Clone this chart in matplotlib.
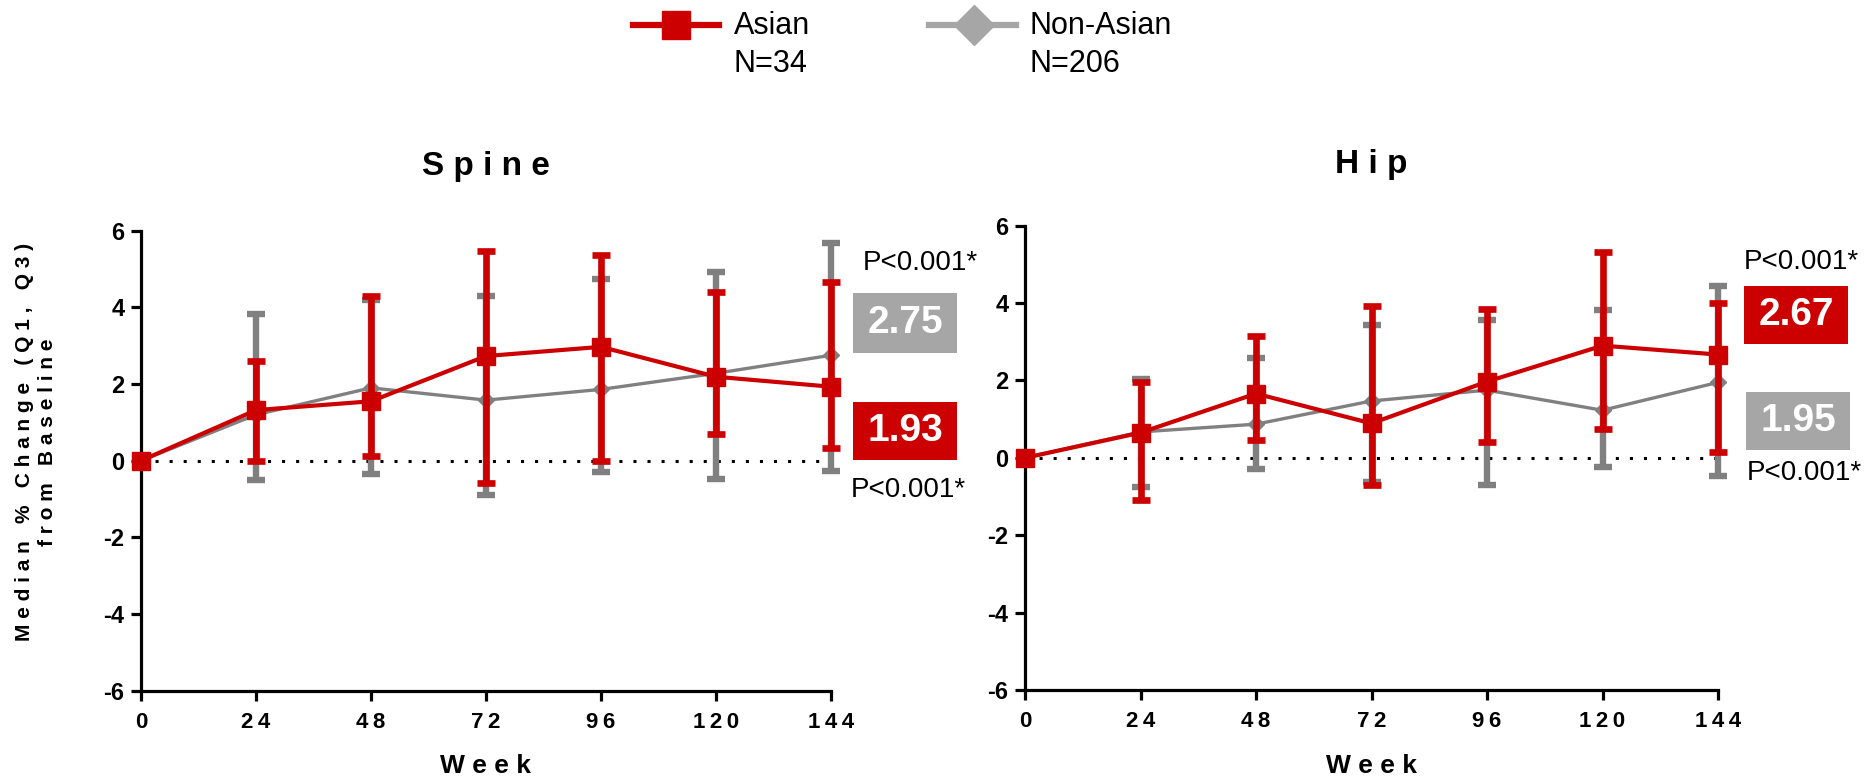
import matplotlib
matplotlib.use('Agg')
import matplotlib.pyplot as plt
from matplotlib.lines import Line2D
from matplotlib.patches import Rectangle

plt.rcParams['font.family'] = ['Liberation Sans', 'DejaVu Sans']

W, H, DPI = 1864, 779, 100

# ---------------- data ----------------
weeks = [0, 24, 48, 72, 96, 120, 144]
week_labels = ['0', '24', '48', '72', '96', '120', '144']
y_ticks = [-6, -4, -2, 0, 2, 4, 6]
y_tick_labels = ['-6', '-4', '-2', '0', '2', '4', '6']

spine_asian_med = [0, 1.32, 1.55, 2.73, 2.97, 2.19, 1.93]
spine_asian_q1 = [0, 0.00, 0.12, -0.57, 0.00, 0.70, 0.32]
spine_asian_q3 = [0, 2.60, 4.30, 5.46, 5.37, 4.39, 4.65]
spine_non_med = [0, 1.20, 1.90, 1.58, 1.86, 2.28, 2.75]
spine_non_q1 = [0, -0.50, -0.35, -0.90, -0.30, -0.48, -0.26]
spine_non_q3 = [0, 3.82, 4.19, 4.30, 4.73, 4.91, 5.67]

hip_asian_med = [0, 0.65, 1.66, 0.89, 1.97, 2.90, 2.67]
hip_asian_q1 = [0, -1.08, 0.46, -0.71, 0.40, 0.74, 0.15]
hip_asian_q3 = [0, 1.95, 3.15, 3.92, 3.86, 5.31, 3.99]
hip_non_med = [0, 0.67, 0.87, 1.47, 1.75, 1.23, 1.95]
hip_non_q1 = [0, -0.75, -0.30, -0.62, -0.71, -0.23, -0.47]
hip_non_q3 = [0, 2.05, 2.57, 3.43, 3.56, 3.82, 4.45]

groups = ['Asian', 'Non-Asian']
group_n = ['N=34', 'N=206']
panel_titles = ['Spine', 'Hip']
spine_values = ['2.75', '1.93']   # Non-Asian, Asian
hip_values = ['2.67', '1.95']     # Asian, Non-Asian
p_text = 'P<0.001*'

RED = '#CC0000'
GRAY = '#808080'
LGRAY = '#A6A6A6'
THIN = '\u2009'


def spaced(s, sep=' '):
    return sep.join(s)


def fx(x):
    return x / W


def fy(y):
    return 1 - y / H


fig = plt.figure(figsize=(W / DPI, H / DPI), dpi=DPI)

ax_spine = fig.add_axes([fx(141), fy(690.7), (831 - 141) / W, (690.7 - 230.7) / H])
ax_hip = fig.add_axes([fx(1025), fy(690), (1718 - 1025) / W, (690 - 225.7) / H])


def draw_panel(ax, a_med, a_q1, a_q3, n_med, n_q1, n_q3):
    ax.axhline(0, color='black', lw=2.2, ls=(0, (1, 3.6)), zorder=1)
    n_err = [[m - q for m, q in zip(n_med[1:], n_q1[1:])],
             [q - m for m, q in zip(n_med[1:], n_q3[1:])]]
    a_err = [[m - q for m, q in zip(a_med[1:], a_q1[1:])],
             [q - m for m, q in zip(a_med[1:], a_q3[1:])]]
    ax.errorbar(weeks[1:], n_med[1:], yerr=n_err, fmt='none', ecolor=GRAY,
                elinewidth=4.6, capsize=6.5, capthick=4.6, zorder=2, clip_on=False)
    ax.plot(weeks, n_med, color=GRAY, lw=2.4, marker='D', ms=8, mfc=GRAY,
            mec=GRAY, zorder=3, clip_on=False)
    ax.errorbar(weeks[1:], a_med[1:], yerr=a_err, fmt='none', ecolor=RED,
                elinewidth=4.8, capsize=6.5, capthick=4.8, zorder=4, clip_on=False)
    ax.plot(weeks, a_med, color=RED, lw=3.0, marker='s', ms=13.5, mfc=RED,
            mec=RED, zorder=5, clip_on=False)

    ax.set_xlim(0, 144)
    ax.set_ylim(-6, 6)
    ax.set_xticks(weeks)
    ax.set_xticklabels([spaced(t, THIN) for t in week_labels],
                       fontsize=16, fontweight='bold')
    ax.set_yticks(y_ticks)
    ax.set_yticklabels(y_tick_labels, fontsize=17, fontweight='bold')
    for s in ['top', 'right']:
        ax.spines[s].set_visible(False)
    for s in ['left', 'bottom']:
        ax.spines[s].set_linewidth(2.3)
        ax.spines[s].set_color('black')
    ax.tick_params(axis='both', direction='out', length=7, width=2.3, colors='black')
    ax.tick_params(axis='x', pad=8)
    ax.tick_params(axis='y', pad=5)
    ax.set_facecolor('none')


draw_panel(ax_spine, spine_asian_med, spine_asian_q1, spine_asian_q3,
           spine_non_med, spine_non_q1, spine_non_q3)
draw_panel(ax_hip, hip_asian_med, hip_asian_q1, hip_asian_q3,
           hip_non_med, hip_non_q1, hip_non_q3)

# titles and axis labels
fig.text(fx(486), fy(166), spaced(panel_titles[0]), ha='center', va='center',
         fontsize=24, fontweight='bold')
fig.text(fx(1371), fy(164), spaced(panel_titles[1]), ha='center', va='center',
         fontsize=24, fontweight='bold')
for cx in (486, 1371):
    fig.text(fx(cx), fy(766), spaced('Week', ' '), ha='center', va='center',
             fontsize=19, fontweight='bold')
fig.text(fx(36), fy(442),
         spaced('Median % Change (Q1, Q3)', ' ') + '\n' + spaced('from Baseline', ' '),
         rotation=90, ha='center', va='center', multialignment='center',
         fontsize=15, fontweight='bold', linespacing=1.3)


# value boxes and p-values
def box(x0, y0, x1, y1, color, text):
    fig.add_artist(Rectangle((fx(x0), fy(y1)), (x1 - x0) / W, (y1 - y0) / H,
                             transform=fig.transFigure, fc=color, ec='none'))
    fig.text(fx((x0 + x1) / 2), fy((y0 + y1) / 2), text, ha='center', va='center',
             fontsize=28, fontweight='bold', color='white')


fig.text(fx(920), fy(263), p_text, ha='center', va='center', fontsize=20)
box(853, 293, 957, 353, LGRAY, spine_values[0])
box(853, 402, 957, 460, RED, spine_values[1])
fig.text(fx(908), fy(490), p_text, ha='center', va='center', fontsize=20)

fig.text(fx(1801), fy(262), p_text, ha='center', va='center', fontsize=20)
box(1744, 286, 1848, 344, RED, hip_values[0])
box(1746, 392, 1850, 450, LGRAY, hip_values[1])
fig.text(fx(1804), fy(473), p_text, ha='center', va='center', fontsize=20)

# legend
fig.add_artist(Line2D([fx(633), fx(719)], [fy(25), fy(25)], transform=fig.transFigure,
                      color=RED, lw=4.5))
fig.add_artist(Line2D([fx(676)], [fy(25)], transform=fig.transFigure, marker='s',
                      ms=20, color=RED, lw=0))
fig.text(fx(734), fy(26), groups[0], ha='left', va='center', fontsize=22)
fig.text(fx(734), fy(64), group_n[0], ha='left', va='center', fontsize=22)

fig.add_artist(Line2D([fx(929), fx(1016)], [fy(25), fy(25)], transform=fig.transFigure,
                      color=LGRAY, lw=4.5))
fig.add_artist(Line2D([fx(974)], [fy(25)], transform=fig.transFigure, marker='D',
                      ms=20, color=LGRAY, lw=0))
fig.text(fx(1030), fy(26), groups[1], ha='left', va='center', fontsize=22)
fig.text(fx(1030), fy(64), group_n[1], ha='left', va='center', fontsize=22)

fig.savefig('out.png', dpi=DPI, facecolor='white')
